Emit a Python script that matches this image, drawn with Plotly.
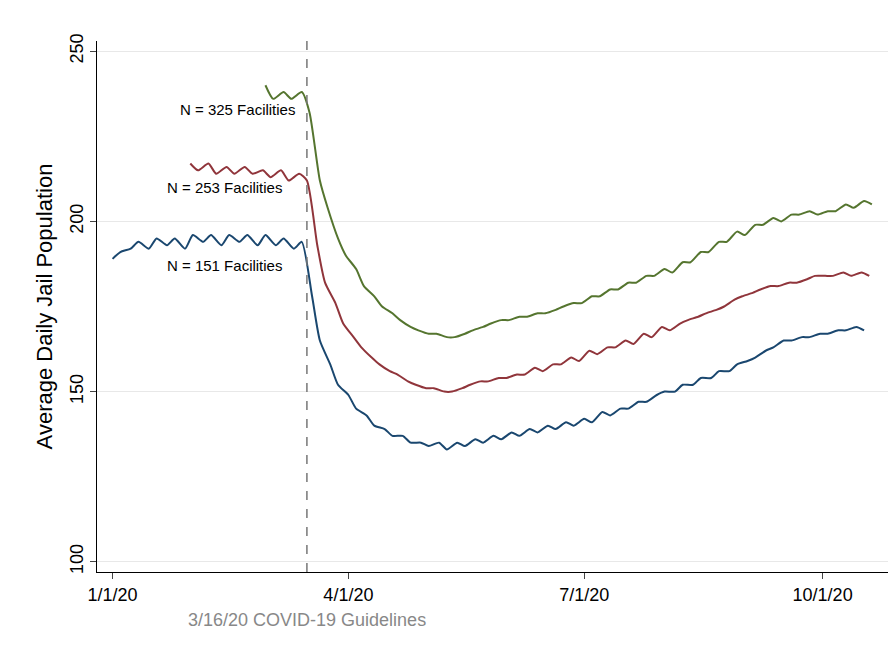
import plotly.graph_objects as go
import pandas as pd

blue_start = "2020-01-01"
blue_vals = [189,191,192,194,192,195,193,195,192,196,
             194,196,193,196,194,196,193,196,
             193,195,192,194,178,165,158,152,
             149,145,143,140,139,137,137,135,135,
             134,135,133,135,134,136,135,137,136,
             138,137,139,138,140,139,141,140,
             142,141,144,143,145,145,147,147,149,
             150,150,152,152,154,154,156,156,158,
             159,160,162,163,165,165,166,166,167,
             167,168,168,169,168]
red_start = "2020-01-31"
red_vals = [217,215,217,214,216,214,216,214,215,213,215,212,214,212,193,182,176,170,
            166,163,160,158,156,155,153,152,151,151,150,150,151,152,153,153,154,154,
            155,155,157,156,158,158,160,159,162,161,163,163,165,164,167,166,169,168,
            170,171,172,173,174,175,177,178,179,180,181,181,182,182,183,184,184,184,
            185,184,185,184]
green_start = "2020-02-29"
green_vals = [240,236,238,236,238,232,212,204,195,190,186,181,178,175,173,171,169,168,
              167,167,166,166,167,168,169,170,171,171,172,172,173,173,174,175,176,176,
              178,178,180,180,182,182,184,184,186,185,188,188,191,191,194,194,197,196,
              199,199,201,200,202,202,203,202,203,203,205,204,206,205]

def dates(start, n):
    d = [pd.Timestamp(start)]
    for i in range(1, n):
        d.append(d[-1] + pd.Timedelta(days=3 if i % 2 else 4))
    return d

fig = go.Figure()
for start, vals, col in [(blue_start, blue_vals, "#1a476f"),
                         (red_start, red_vals, "#90353b"),
                         (green_start, green_vals, "#55752f")]:
    fig.add_trace(go.Scatter(x=dates(start, len(vals)), y=vals, mode="lines",
                             line=dict(color=col, width=2, shape="spline", smoothing=0.6),
                             showlegend=False))

fig.add_vline(x="2020-03-16", line=dict(color="#777", width=1.5, dash="dash"))
font = dict(family="Liberation Sans, Arial", size=15, color="black")
for txt, d, y in [("N = 325 Facilities", "2020-03-12", 233),
                  ("N = 253 Facilities", "2020-03-07", 210),
                  ("N = 151 Facilities", "2020-03-07", 187)]:
    fig.add_annotation(x=d, y=y, text=txt, showarrow=False, xanchor="right", font=font)
fig.add_annotation(x="2020-03-16", y=0, yref="paper", yshift=-60, text="3/16/20 COVID-19 Guidelines",
                   showarrow=False, font=dict(family="Liberation Sans, Arial", size=18, color="#888"))

fig.update_layout(
    width=896, height=656, plot_bgcolor="white", paper_bgcolor="white",
    margin=dict(l=89, r=14, t=33, b=92),
    font=dict(family="Liberation Sans, Arial", size=18, color="black"),
    xaxis=dict(range=["2019-12-26", "2020-10-27"], tickvals=["2020-01-01", "2020-04-01", "2020-07-01", "2020-10-01"],
               ticktext=["1/1/20", "4/1/20", "7/1/20", "10/1/20"], showline=True, linecolor="black",
               ticks="outside", ticklen=6, showgrid=False, zeroline=False),
    yaxis=dict(range=[97, 253], tickvals=[100, 150, 200, 250], tickangle=-90, showline=True,
               linecolor="black", ticks="outside", ticklen=6, gridcolor="#e8e8e8", zeroline=False,
               title=dict(text="Average Daily Jail Population", standoff=8)),
)
fig.write_html("out.html")
